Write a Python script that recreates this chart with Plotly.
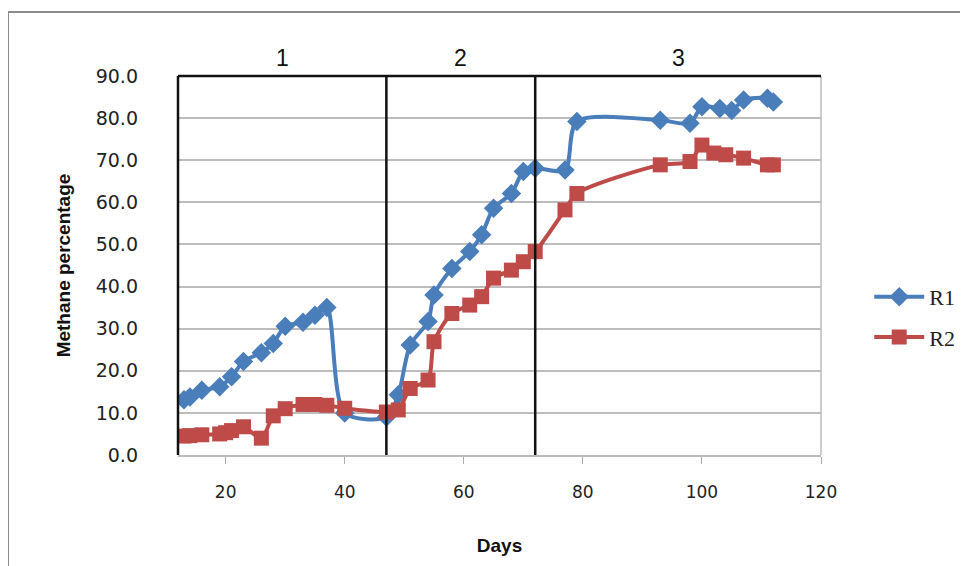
import plotly.graph_objects as go

# R1 data (days, methane %)
r1_days = [13, 14, 16, 19, 21, 23, 26, 28, 30, 33, 35, 37, 40, 47, 49, 51, 54, 55, 58, 61, 63, 65, 68, 70,
           72, 77, 79, 93, 98, 100, 103, 105, 107, 111, 112]
r1_vals = [13.1, 13.8, 15.4, 16.2, 18.6, 22.2, 24.3, 26.5, 30.6, 31.5, 33.2, 35.0, 10.0, 9.0, 14.3, 26.1,
           31.7, 38.0, 44.3, 48.3, 52.3, 58.6, 62.1, 67.3, 68.1, 67.7, 79.2, 79.5, 78.8, 82.7, 82.3, 81.8,
           84.3, 84.7, 83.8]

# R2 data
r2_days = [13, 14, 16, 19, 20, 21, 23, 26, 28, 30, 33, 35, 37, 40, 47, 49, 51, 54, 55, 58, 61, 63, 65, 68,
           70, 72, 77, 79, 93, 98, 100, 102, 104, 107, 111, 112]
r2_vals = [4.5, 4.6, 4.8, 5.0, 5.3, 5.8, 6.7, 4.0, 9.3, 11.0, 12.0, 12.0, 11.8, 11.1, 10.2, 10.7, 15.8, 17.8,
           26.9, 33.6, 35.6, 37.6, 42.0, 43.9, 45.9, 48.3, 58.2, 62.1, 68.9, 69.7, 73.6, 71.7, 71.3, 70.5,
           68.9, 68.9]

phase_bounds = [12, 47, 72, 120]
phase_labels = ["1", "2", "3"]
y_ticks = [0, 10, 20, 30, 40, 50, 60, 70, 80, 90]
x_ticks = [20, 40, 60, 80, 100, 120]

X_MIN, X_MAX = 12, 120
BLUE = "#4A7EBB"
RED = "#BE4B48"

fig = go.Figure()
fig.add_trace(go.Scatter(
    x=r1_days, y=r1_vals, name="R1", mode="lines+markers", showlegend=True,
    line=dict(color=BLUE, width=4, shape="spline", smoothing=0.8),
    marker=dict(symbol="diamond", size=15, color=BLUE),
    legend="legend",
))
fig.add_trace(go.Scatter(
    x=r2_days, y=r2_vals, name="R2", mode="lines+markers", showlegend=True,
    line=dict(color=RED, width=4, shape="spline", smoothing=0.8),
    marker=dict(symbol="square", size=15, color=RED),
    legend="legend2",
))

shapes = []
# left boundary and top of the phase box (paper refs so they are not clipped)
shapes.append(dict(type="line", xref="paper", yref="paper", x0=0, x1=0, y0=0, y1=1,
                   line=dict(color="#111111", width=2.5)))
shapes.append(dict(type="line", xref="paper", yref="paper", x0=0, x1=1, y0=1, y1=1,
                   line=dict(color="#111111", width=2.5)))
for b in phase_bounds[1:-1]:
    shapes.append(dict(type="line", xref="x", yref="paper", x0=b, x1=b, y0=0, y1=1,
                       line=dict(color="#111111", width=2.5)))
shapes.append(dict(type="line", xref="paper", yref="paper", x0=1, x1=1, y0=0, y1=1,
                   line=dict(color="#BBBBBB", width=1.5), layer="below"))
# outer chart border
shapes.append(dict(type="rect", xref="paper", yref="paper", x0=-0.2644, x1=2.0, y0=-1.0, y1=1.169,
                   line=dict(color="#8C8C8C", width=2)))

annotations = []
for i, lab in enumerate(phase_labels):
    mid = (phase_bounds[i] + phase_bounds[i + 1]) / 2
    annotations.append(dict(x=(mid - X_MIN) / (X_MAX - X_MIN), y=1.047, xref="paper", yref="paper",
                            yanchor="middle", xanchor="center",
                            text=lab, showarrow=False,
                            font=dict(family="Liberation Sans, Arial", size=23, color="#111111")))

legend_font = dict(family="Liberation Serif, Times New Roman", size=22, color="#222222")

fig.update_layout(
    width=968, height=566,
    margin=dict(l=170, r=155, t=68, b=119),
    paper_bgcolor="white", plot_bgcolor="white",
    shapes=shapes, annotations=annotations, showlegend=True,
    legend=dict(x=1.075, y=0.417, xanchor="left", yanchor="middle", font=legend_font,
                itemwidth=50, bgcolor="rgba(0,0,0,0)"),
    legend2=dict(x=1.075, y=0.311, xanchor="left", yanchor="middle", font=legend_font,
                 itemwidth=50, bgcolor="rgba(0,0,0,0)"),
    xaxis=dict(range=[X_MIN, X_MAX], tickvals=x_ticks, ticks="outside", ticklen=7, tickcolor="#AAAAAA",
               showgrid=False, zeroline=False, showline=True, linecolor="#BBBBBB", linewidth=1.5,
               ticklabelstandoff=14,
               tickfont=dict(family="DejaVu Sans", size=17, color="#222222"),
               title=dict(text="<b>Days</b>", font=dict(family="Liberation Sans, Arial", size=19, color="#111111"),
                          standoff=38)),
    yaxis=dict(range=[0, 90], tickvals=y_ticks, tickformat=".1f", showgrid=True, gridcolor="#BDBDBD",
               gridwidth=1.5, zeroline=False, showline=False, ticks="", ticklabelstandoff=39,
               tickfont=dict(family="DejaVu Sans", size=19, color="#222222"),
               title=dict(text="<b>Methane percentage</b>",
                          font=dict(family="Liberation Sans, Arial", size=19, color="#111111"),
                          standoff=20)),
)

fig.write_html("out.html")
